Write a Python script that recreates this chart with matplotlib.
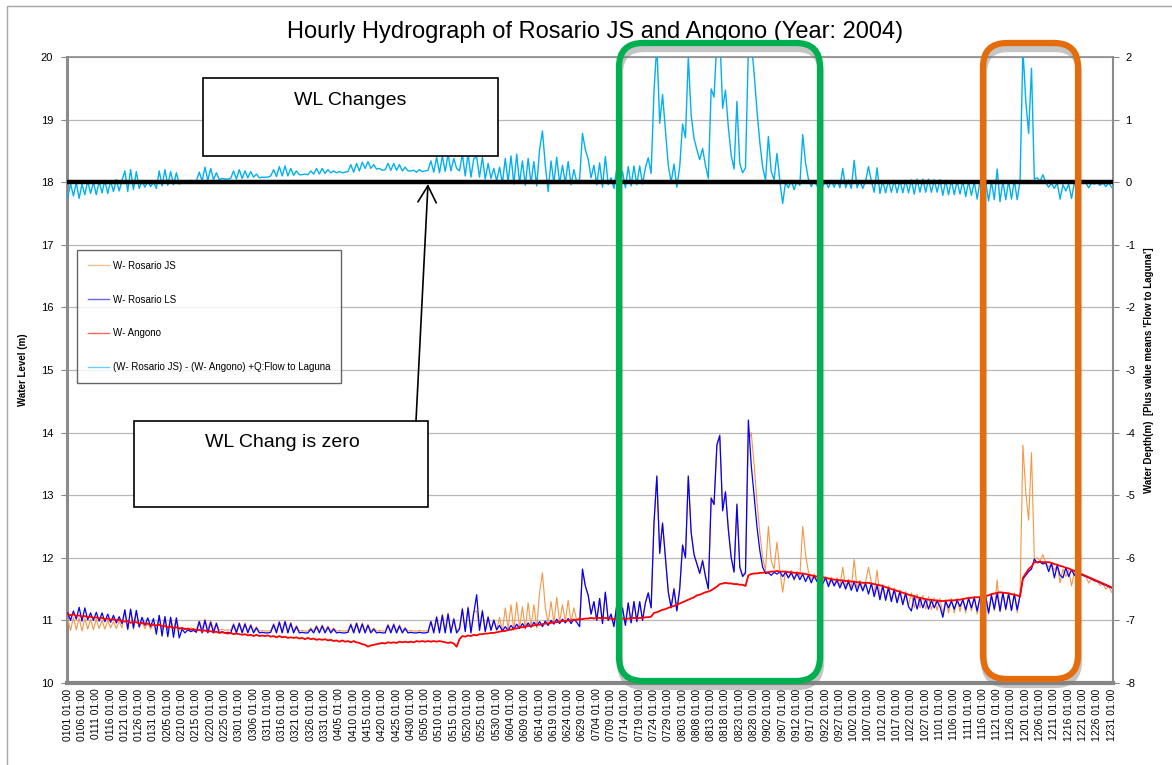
import numpy as np
import pandas as pd
import matplotlib
matplotlib.use("Agg")
import matplotlib.pyplot as plt
from matplotlib.patches import Rectangle, FancyBboxPatch

plt.rcParams['font.family'] = ['Liberation Sans', 'DejaVu Sans']
plt.rcParams['axes.unicode_minus'] = False

# daily readings taken off the chart, day 0 = 1 Jan 2004 (366 days)
w_rosario_js = [
    11.02, 10.84, 11.05, 10.85, 11.04, 10.83, 11.03, 10.86, 11.02, 10.85,
    11.02, 10.87, 11.00, 10.86, 11.00, 10.88, 10.98, 10.87, 10.99, 10.88,
    11.15, 10.85, 11.17, 10.86, 11.14, 10.88, 10.98, 10.87, 10.96, 10.86,
    10.95, 10.84, 11.08, 10.84, 11.06, 10.84, 11.05, 10.84, 11.04, 10.85,
    10.88, 10.86, 10.87, 10.88, 10.86, 10.85, 11.00, 10.86, 11.02, 10.85,
    11.00, 10.85, 10.97, 10.84, 10.86, 10.84, 10.85, 10.84, 10.95, 10.83,
    10.97, 10.83, 10.96, 10.83, 10.94, 10.83, 10.90, 10.83, 10.84, 10.83,
    10.83, 10.84, 10.95, 10.83, 10.99, 10.83, 11.00, 10.83, 10.97, 10.83,
    10.92, 10.83, 10.84, 10.83, 10.83, 10.88, 10.83, 10.92, 10.83, 10.93,
    10.83, 10.91, 10.83, 10.88, 10.83, 10.84, 10.83, 10.83, 10.84, 10.95,
    10.83, 10.97, 10.83, 10.96, 10.83, 10.94, 10.83, 10.88, 10.83, 10.84,
    10.83, 10.83, 10.94, 10.83, 10.95, 10.83, 10.93, 10.83, 10.89, 10.83,
    10.84, 10.83, 10.83, 10.84, 10.83, 10.83, 10.84, 11.00, 10.83, 11.07,
    10.83, 11.10, 10.83, 11.12, 10.83, 11.04, 10.83, 10.88, 11.20, 10.84,
    11.22, 10.83, 11.14, 11.15, 10.86, 11.17, 10.84, 11.07, 10.86, 11.02,
    10.84, 11.05, 10.82, 11.20, 10.86, 11.25, 10.84, 11.29, 10.88, 11.22,
    10.86, 11.28, 10.90, 11.25, 10.88, 11.45, 11.76, 11.20, 10.96, 11.30,
    10.96, 11.37, 10.97, 11.25, 10.99, 11.32, 10.97, 11.20, 11.00, 11.05,
    11.80, 11.55, 11.40, 11.10, 11.30, 11.00, 11.35, 10.96, 11.45, 11.00,
    11.10, 10.92, 11.25, 10.96, 11.20, 10.93, 11.28, 10.97, 11.30, 10.99,
    11.30, 11.01, 11.28, 11.44, 11.20, 12.57, 13.32, 12.09, 12.57, 12.02,
    11.47, 11.22, 11.52, 11.17, 11.52, 12.22, 12.02, 13.32, 12.42, 12.07,
    11.92, 11.77, 11.97, 11.72, 11.52, 12.97, 12.87, 13.82, 13.97, 12.77,
    13.07, 12.47, 12.02, 11.79, 12.87, 11.87, 11.72, 11.78, 13.85, 14.00,
    13.50, 12.90, 12.40, 12.00, 11.80, 12.50, 11.95, 11.82, 12.25, 11.80,
    11.45, 11.78, 11.68, 11.80, 11.64, 11.78, 11.70, 12.50, 12.05, 11.78,
    11.65, 11.74, 11.64, 11.72, 11.62, 11.70, 11.58, 11.69, 11.57, 11.68,
    11.55, 11.85, 11.54, 11.66, 11.52, 11.97, 11.52, 11.64, 11.50, 11.62,
    11.85, 11.61, 11.42, 11.80, 11.38, 11.57, 11.36, 11.55, 11.34, 11.52,
    11.30, 11.49, 11.27, 11.46, 11.24, 11.44, 11.20, 11.42, 11.20, 11.40,
    11.18, 11.38, 11.17, 11.36, 11.16, 11.35, 11.10, 11.34, 11.12, 11.35,
    11.12, 11.35, 11.14, 11.36, 11.12, 11.37, 11.15, 11.38, 11.10, 11.39,
    11.12, 11.40, 11.10, 11.43, 11.15, 11.65, 11.14, 11.46, 11.16, 11.45,
    11.15, 11.44, 11.12, 11.40, 13.80, 13.05, 12.60, 13.68, 11.98, 12.00,
    11.95, 12.05, 11.92, 11.85, 11.90, 11.80, 11.88, 11.60, 11.82, 11.70,
    11.80, 11.55, 11.78, 11.65, 11.74, 11.72, 11.70, 11.60, 11.66, 11.62,
    11.62, 11.56, 11.58, 11.50, 11.54, 11.45,
]

w_rosario_ls = [
    11.12, 11.00, 11.15, 11.02, 11.21, 10.99, 11.20, 11.01, 11.12, 11.00,
    11.13, 10.99, 11.12, 10.98, 11.10, 10.97, 11.08, 10.96, 11.06, 10.95,
    11.17, 10.86, 11.18, 10.88, 11.16, 10.90, 11.05, 10.92, 11.04, 10.90,
    11.03, 10.78, 11.08, 10.75, 11.06, 10.74, 11.05, 10.73, 11.04, 10.72,
    10.86, 10.80, 10.85, 10.82, 10.84, 10.81, 10.98, 10.80, 11.00, 10.80,
    10.97, 10.80, 10.95, 10.80, 10.82, 10.80, 10.81, 10.80, 10.93, 10.80,
    10.95, 10.80, 10.94, 10.80, 10.92, 10.80, 10.88, 10.80, 10.81, 10.80,
    10.80, 10.81, 10.93, 10.80, 10.97, 10.80, 10.98, 10.80, 10.95, 10.80,
    10.90, 10.80, 10.81, 10.80, 10.80, 10.86, 10.80, 10.90, 10.80, 10.91,
    10.80, 10.89, 10.80, 10.86, 10.80, 10.81, 10.80, 10.80, 10.81, 10.93,
    10.80, 10.95, 10.80, 10.94, 10.80, 10.92, 10.80, 10.86, 10.80, 10.81,
    10.80, 10.80, 10.92, 10.80, 10.93, 10.80, 10.91, 10.80, 10.87, 10.80,
    10.81, 10.80, 10.80, 10.81, 10.80, 10.80, 10.81, 10.98, 10.80, 11.05,
    10.80, 11.08, 10.80, 11.10, 10.80, 11.02, 10.80, 10.86, 11.18, 10.82,
    11.20, 10.80, 11.12, 11.41, 10.84, 11.15, 10.82, 11.05, 10.84, 11.00,
    10.85, 10.92, 10.83, 10.90, 10.84, 10.92, 10.86, 10.94, 10.87, 10.95,
    10.88, 10.96, 10.89, 10.97, 10.91, 10.98, 10.90, 10.99, 10.92, 11.00,
    10.94, 11.02, 10.95, 11.02, 10.96, 11.03, 10.95, 11.02, 10.97, 10.90,
    11.82, 11.55, 11.40, 11.10, 11.30, 11.00, 11.35, 10.95, 11.45, 11.00,
    11.10, 10.90, 11.25, 10.95, 11.20, 10.92, 11.28, 10.96, 11.30, 10.98,
    11.30, 11.00, 11.28, 11.44, 11.20, 12.55, 13.30, 12.07, 12.55, 12.00,
    11.45, 11.20, 11.50, 11.15, 11.50, 12.20, 12.00, 13.30, 12.40, 12.05,
    11.90, 11.75, 11.95, 11.70, 11.50, 12.95, 12.85, 13.80, 13.95, 12.75,
    13.05, 12.45, 12.00, 11.77, 12.85, 11.85, 11.70, 11.76, 14.20, 13.48,
    13.00, 12.50, 12.12, 11.85, 11.75, 11.76, 11.72, 11.77, 11.74, 11.78,
    11.70, 11.77, 11.68, 11.76, 11.66, 11.75, 11.65, 11.74, 11.62, 11.72,
    11.60, 11.71, 11.62, 11.69, 11.58, 11.68, 11.54, 11.66, 11.55, 11.64,
    11.52, 11.63, 11.50, 11.62, 11.48, 11.62, 11.46, 11.60, 11.47, 11.59,
    11.42, 11.59, 11.38, 11.56, 11.33, 11.55, 11.32, 11.52, 11.30, 11.49,
    11.28, 11.46, 11.25, 11.43, 11.22, 11.15, 11.38, 11.18, 11.36, 11.20,
    11.33, 11.18, 11.32, 11.20, 11.31, 11.22, 11.05, 11.30, 11.20, 11.31,
    11.18, 11.32, 11.22, 11.33, 11.17, 11.35, 11.20, 11.36, 11.15, 11.37,
    11.22, 11.38, 11.12, 11.40, 11.18, 11.43, 11.15, 11.44, 11.18, 11.43,
    11.16, 11.42, 11.17, 11.40, 11.66, 11.72, 11.78, 11.82, 11.98, 11.92,
    11.93, 11.90, 11.92, 11.78, 11.91, 11.68, 11.88, 11.72, 11.68, 11.84,
    11.70, 11.81, 11.72, 11.76, 11.73, 11.72, 11.70, 11.68, 11.66, 11.64,
    11.62, 11.60, 11.58, 11.56, 11.54, 11.52,
]

w_angono = [
    11.10, 11.08, 11.10, 11.07, 11.08, 11.06, 11.07, 11.05, 11.06, 11.04,
    11.05, 11.03, 11.04, 11.02, 11.03, 11.01, 11.02, 11.00, 11.01, 10.99,
    10.98, 10.99, 10.96, 10.98, 10.97, 10.95, 10.96, 10.94, 10.95, 10.93,
    10.93, 10.92, 10.93, 10.91, 10.91, 10.89, 10.90, 10.88, 10.89, 10.87,
    10.88, 10.86, 10.87, 10.85, 10.86, 10.84, 10.85, 10.83, 10.84, 10.82,
    10.83, 10.81, 10.82, 10.80, 10.81, 10.80, 10.79, 10.80, 10.78, 10.79,
    10.78, 10.77, 10.78, 10.76, 10.77, 10.75, 10.77, 10.75, 10.76, 10.75,
    10.76, 10.74, 10.75, 10.73, 10.75, 10.73, 10.74, 10.72, 10.73, 10.72,
    10.73, 10.71, 10.72, 10.70, 10.72, 10.70, 10.71, 10.69, 10.70, 10.69,
    10.70, 10.68, 10.69, 10.67, 10.68, 10.66, 10.68, 10.66, 10.67, 10.65,
    10.67, 10.65, 10.64, 10.62, 10.61, 10.58, 10.60, 10.61, 10.62, 10.63,
    10.64, 10.63, 10.65, 10.64, 10.65, 10.64, 10.66, 10.65, 10.66, 10.65,
    10.66, 10.65, 10.67, 10.66, 10.67, 10.66, 10.67, 10.66, 10.67, 10.66,
    10.67, 10.66, 10.65, 10.64, 10.65, 10.63, 10.58, 10.70, 10.75, 10.74,
    10.76, 10.75, 10.77, 10.76, 10.78, 10.78, 10.79, 10.79, 10.80, 10.80,
    10.81, 10.82, 10.83, 10.83, 10.85, 10.85, 10.87, 10.87, 10.89, 10.89,
    10.90, 10.91, 10.91, 10.92, 10.93, 10.93, 10.94, 10.95, 10.95, 10.96,
    10.97, 10.97, 10.98, 10.99, 10.99, 11.00, 11.00, 11.01, 11.01, 11.02,
    11.02, 11.03, 11.03, 11.04, 11.03, 11.04, 11.04, 11.03, 11.04, 11.03,
    11.03, 11.02, 11.03, 11.02, 11.03, 11.02, 11.03, 11.03, 11.04, 11.03,
    11.04, 11.04, 11.05, 11.05, 11.06, 11.12, 11.13, 11.15, 11.17, 11.18,
    11.20, 11.22, 11.23, 11.25, 11.27, 11.29, 11.31, 11.33, 11.35, 11.37,
    11.40, 11.41, 11.43, 11.45, 11.46, 11.48, 11.51, 11.54, 11.58, 11.59,
    11.60, 11.59, 11.59, 11.58, 11.58, 11.57, 11.57, 11.55, 11.72, 11.74,
    11.75, 11.75, 11.76, 11.76, 11.77, 11.77, 11.78, 11.78, 11.79, 11.78,
    11.78, 11.78, 11.77, 11.77, 11.76, 11.76, 11.75, 11.75, 11.74, 11.73,
    11.72, 11.71, 11.70, 11.70, 11.69, 11.68, 11.67, 11.66, 11.65, 11.65,
    11.64, 11.64, 11.63, 11.63, 11.62, 11.62, 11.61, 11.61, 11.60, 11.60,
    11.60, 11.59, 11.58, 11.57, 11.56, 11.55, 11.53, 11.52, 11.50, 11.49,
    11.47, 11.46, 11.44, 11.43, 11.41, 11.40, 11.39, 11.37, 11.36, 11.35,
    11.34, 11.33, 11.33, 11.32, 11.32, 11.31, 11.31, 11.31, 11.32, 11.32,
    11.32, 11.33, 11.33, 11.34, 11.35, 11.36, 11.36, 11.37, 11.37, 11.37,
    11.38, 11.39, 11.40, 11.42, 11.43, 11.44, 11.45, 11.44, 11.44, 11.43,
    11.42, 11.41, 11.40, 11.38, 11.68, 11.75, 11.82, 11.86, 11.93, 11.93,
    11.94, 11.93, 11.93, 11.93, 11.92, 11.90, 11.89, 11.87, 11.86, 11.84,
    11.83, 11.81, 11.79, 11.77, 11.75, 11.73, 11.71, 11.69, 11.67, 11.65,
    11.63, 11.61, 11.59, 11.57, 11.55, 11.53,
]

# (W- Rosario JS) - (W- Angono), right axis
wl_change = [
    -0.25, -0.02, -0.22, 0.00, -0.26, -0.03, -0.20, 0.02, -0.18, 0.00,
    -0.20, 0.01, -0.17, 0.03, -0.18, 0.02, -0.15, 0.04, -0.14, 0.03,
    0.18, -0.15, 0.20, -0.12, 0.17, -0.10, 0.02, -0.08, 0.01, -0.07,
    0.00, -0.10, 0.18, -0.06, 0.20, -0.05, 0.17, -0.04, 0.15, -0.03,
    0.00, 0.02, 0.00, 0.03, 0.01, 0.02, 0.16, 0.02, 0.24, 0.03,
    0.22, 0.04, 0.15, 0.04, 0.06, 0.05, 0.05, 0.06, 0.18, 0.05,
    0.20, 0.06, 0.18, 0.07, 0.17, 0.08, 0.13, 0.07, 0.08, 0.08,
    0.08, 0.10, 0.20, 0.09, 0.25, 0.10, 0.26, 0.10, 0.22, 0.11,
    0.18, 0.12, 0.12, 0.13, 0.12, 0.18, 0.13, 0.22, 0.13, 0.22,
    0.14, 0.20, 0.15, 0.18, 0.15, 0.17, 0.15, 0.16, 0.17, 0.28,
    0.16, 0.30, 0.18, 0.32, 0.22, 0.33, 0.22, 0.28, 0.21, 0.22,
    0.19, 0.20, 0.30, 0.19, 0.30, 0.19, 0.28, 0.18, 0.24, 0.18,
    0.18, 0.19, 0.16, 0.20, 0.17, 0.18, 0.19, 0.34, 0.16, 0.40,
    0.15, 0.42, 0.17, 0.45, 0.18, 0.38, 0.22, 0.18, 0.45, 0.10,
    0.46, 0.08, 0.38, 0.40, 0.08, 0.40, 0.05, 0.30, 0.06, 0.22,
    0.02, 0.24, -0.02, 0.38, 0.00, 0.42, -0.03, 0.45, -0.02, 0.34,
    -0.05, 0.38, -0.02, 0.33, -0.06, 0.52, 0.82, 0.27, -0.15, 0.34,
    -0.02, 0.40, -0.02, 0.27, -0.01, 0.33, -0.04, 0.20, 0.00, 0.05,
    0.78, 0.52, 0.37, 0.07, 0.27, -0.04, 0.31, -0.08, 0.41, -0.04,
    0.07, -0.10, 0.22, -0.06, 0.17, -0.09, 0.25, -0.06, 0.26, -0.04,
    0.26, -0.03, 0.23, 0.39, 0.14, 1.45, 2.20, 0.94, 1.40, 0.84,
    0.27, 0.00, 0.29, -0.08, 0.25, 0.93, 0.71, 2.00, 1.07, 0.70,
    0.52, 0.36, 0.54, 0.27, 0.06, 1.49, 1.36, 2.28, 2.39, 1.18,
    1.47, 0.88, 0.43, 0.21, 1.29, 0.30, 0.15, 0.23, 2.13, 2.26,
    1.75, 1.15, 0.64, 0.24, 0.03, 0.73, 0.17, 0.04, 0.46, 0.02,
    -0.34, 0.00, -0.09, 0.03, -0.12, 0.02, -0.05, 0.76, 0.31, 0.05,
    -0.07, 0.03, -0.06, 0.02, -0.07, 0.02, -0.09, 0.03, -0.08, 0.03,
    -0.09, 0.22, -0.09, 0.03, -0.10, 0.35, -0.09, 0.03, -0.10, 0.02,
    0.25, 0.02, -0.16, 0.23, -0.18, 0.02, -0.17, 0.03, -0.16, 0.03,
    -0.17, 0.03, -0.17, 0.03, -0.17, 0.04, -0.19, 0.05, -0.16, 0.05,
    -0.16, 0.05, -0.16, 0.04, -0.16, 0.04, -0.21, 0.03, -0.20, 0.03,
    -0.20, 0.02, -0.19, 0.02, -0.23, 0.01, -0.21, 0.01, -0.27, 0.02,
    -0.26, 0.01, -0.30, 0.01, -0.28, 0.21, -0.31, 0.02, -0.28, 0.02,
    -0.27, 0.03, -0.28, 0.02, 2.12, 1.30, 0.78, 1.82, 0.05, 0.07,
    0.01, 0.12, -0.01, -0.08, -0.02, -0.10, -0.01, -0.27, -0.04, -0.14,
    -0.03, -0.26, -0.01, -0.12, -0.01, -0.01, -0.01, -0.09, -0.01, -0.03,
    -0.01, -0.05, -0.01, -0.07, -0.01, -0.08,
]

days = np.arange(len(w_angono))
tick_dates = pd.date_range("2004-01-01", "2004-12-31", freq="5D")
tick_labels = [d.strftime("%m%d") + " 01:00" for d in tick_dates]
tick_days = [(d - tick_dates[0]).days for d in tick_dates]

W, H = 1172, 765
fig = plt.figure(figsize=(W / 100, H / 100), dpi=100)
ax = fig.add_axes([67 / W, 1 - 683 / H, (1113 - 67) / W, (683 - 57) / H])
ax2 = ax.twinx()

ax.plot(days, w_rosario_js, color="#F79646", lw=0.8, label="W- Rosario JS", zorder=3)
ax.plot(days, w_rosario_ls, color="#0000FF", lw=0.9, label="W- Rosario LS", zorder=4)
ax.plot(days, w_angono, color="#FF0000", lw=1.3, label="W- Angono", zorder=5)
ax2.plot(days, wl_change, color="#00B0F0", lw=1.0,
         label="(W- Rosario JS) - (W- Angono) +Q:Flow to Laguna", zorder=3)
ax2.axhline(0, color="black", lw=3.2, zorder=4)

ax.set_xlim(-0.24, 365.5)
ax.set_ylim(10, 20)
ax2.set_ylim(-8, 2)
ax.set_yticks(range(10, 21))
ax2.set_yticks(range(-8, 3))
ax.set_xticks(tick_days)
ax.set_xticklabels(tick_labels, rotation=90, fontsize=7.5)
ax.grid(axis="y", color="#b8b8b8", lw=0.9)
ax.set_axisbelow(True)

ax.tick_params(axis="y", labelsize=8, length=4, color="#888888", pad=6)
ax.tick_params(axis="x", length=0, pad=4)
ax2.tick_params(axis="y", labelsize=8, length=4, color="#888888", pad=5)

for s in ["top", "right"]:
    ax.spines[s].set_visible(False)
for s in ["left", "bottom"]:
    ax2.spines[s].set_visible(False)
ax.spines["left"].set_color("#8c8c8c")
ax.spines["left"].set_linewidth(2.2)
ax.spines["bottom"].set_color("#868686")
ax.spines["bottom"].set_linewidth(3)
ax2.spines["right"].set_color("#8c8c8c")
ax2.spines["right"].set_linewidth(1.5)
ax2.spines["top"].set_color("#8c8c8c")
ax2.spines["top"].set_linewidth(1.2)

ax.set_ylabel("Water Level (m)", fontsize=7, fontweight="bold", labelpad=9)
ax2.set_ylabel("Water Depth(m)  [Plus value means 'Flow to Laguna']",
               fontsize=7, fontweight="bold", labelpad=6, rotation=90)

fig.text(595 / W, 1 - 32 / H, "Hourly Hydrograph of Rosario JS and Angono (Year: 2004)",
         ha="center", va="center", fontsize=17)

h1, l1 = ax.get_legend_handles_labels()
h2, l2 = ax2.get_legend_handles_labels()
leg = ax2.legend(h1 + h2[:1], l1 + l2[:1], loc="upper left",
                 bbox_to_anchor=(77 / W, 1 - 250 / H), bbox_transform=fig.transFigure,
                 fontsize=7, frameon=True, fancybox=False, borderaxespad=0,
                 borderpad=1.1, labelspacing=2.45, handlelength=2.2, handletextpad=0.4)
leg.get_frame().set_edgecolor("#404040")
leg.get_frame().set_linewidth(1.0)
for ln in leg.get_lines():
    ln.set_linewidth(1.0)
    ln.set_alpha(0.6)

# annotation layer in pixel coordinates
ov = fig.add_axes([0, 0, 1, 1], zorder=10)
ov.set_xlim(0, W)
ov.set_ylim(H, 0)
ov.axis("off")
ov.patch.set_alpha(0)

ov.add_patch(Rectangle((7, 6), 1300, 900, fill=False, ec="#a6a6a6", lw=1))

ov.add_patch(Rectangle((203, 78), 295, 78, fc="white", ec="black", lw=1.2))
ov.text(350, 100, "WL Changes", ha="center", va="center", fontsize=14)
ov.add_patch(Rectangle((134, 421), 294, 86, fc="white", ec="black", lw=1.2))
ov.text(282, 442, "WL Chang is zero", ha="center", va="center", fontsize=14)
ov.annotate("", xy=(428, 184), xytext=(416, 421),
            arrowprops=dict(arrowstyle="->,head_length=1.0,head_width=0.55",
                            mutation_scale=12, lw=1.2, color="black",
                            shrinkA=0, shrinkB=0))

for (x0, x1, y0, y1, col) in [(619, 820, 43, 681, "#00B050"), (983, 1078, 43, 679, "#E46C0A")]:
    ov.add_patch(FancyBboxPatch((x0 + 1, y0 + 6), x1 - x0, y1 - y0,
                                boxstyle="round,pad=0,rounding_size=24",
                                fill=False, ec="#7f7f7f", lw=4.5, alpha=0.45))
    ov.add_patch(FancyBboxPatch((x0, y0), x1 - x0, y1 - y0,
                                boxstyle="round,pad=0,rounding_size=24",
                                fill=False, ec=col, lw=4.5))

fig.savefig("out.png", dpi=100)
